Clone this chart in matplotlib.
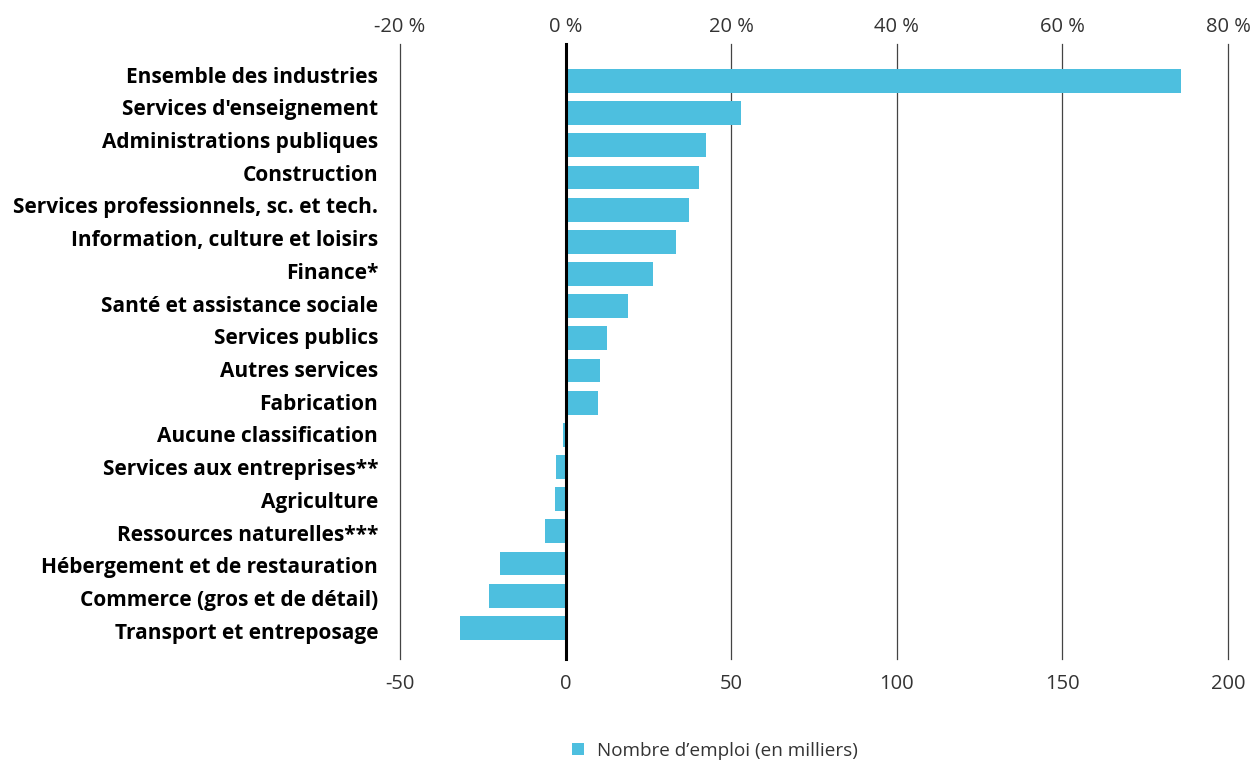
import matplotlib
matplotlib.use("Agg")
import matplotlib.pyplot as plt
from matplotlib.patches import Patch

categories = [
    "Ensemble des industries",
    "Services d'enseignement",
    "Administrations publiques",
    "Construction",
    "Services professionnels, sc. et tech.",
    "Information, culture et loisirs",
    "Finance*",
    "Santé et assistance sociale",
    "Services publics",
    "Autres services",
    "Fabrication",
    "Aucune classification",
    "Services aux entreprises**",
    "Agriculture",
    "Ressources naturelles***",
    "Hébergement et de restauration",
    "Commerce (gros et de détail)",
    "Transport et entreposage",
]
emplois = [185.9, 53.1, 42.3, 40.2, 37.2, 33.2, 26.3, 18.8, 12.4, 10.3, 9.7,
           -0.8, -2.9, -3.2, -6.2, -19.8, -23.1, -31.8]
bottom_ticks = [-50, 0, 50, 100, 150, 200]
top_tick_labels = ["-20 %", "0 %", "20 %", "40 %", "60 %", "80 %"]
legend_label = "Nombre d’emploi (en milliers)"

plt.rcParams['font.family'] = ['Open Sans', 'DejaVu Sans']
bar_color = "#4DBFDF"
text_color = "#333333"

W, H = 1254, 762
ax_top, ax_bot, ax_left, ax_right = 44, 659, 400, 1228

fig = plt.figure(figsize=(W / 100, H / 100), dpi=100)
ax = fig.add_axes([ax_left / W, 1 - ax_bot / H, (ax_right - ax_left) / W, (ax_bot - ax_top) / H])

y = list(range(len(categories)))
ax.barh(y, emplois, height=0.74, color=bar_color, zorder=3)

ax.set_xlim(-50, 200)
ax.set_ylim(17.97, -1.15)
# category labels are spread slightly wider than the bars in the reference
label_pos = [i * 1.0171 - 0.2 for i in y]
ax.set_yticks(label_pos)
ax.set_yticklabels(categories, fontsize=15, fontweight='bold', color='black')
ax.tick_params(axis='y', length=0, pad=15.8)

ax.set_xticks(bottom_ticks)
ax.set_xticklabels([str(t) for t in bottom_ticks], fontsize=14.5, color=text_color)
ax.tick_params(axis='x', length=0, pad=10.5)

for t in bottom_ticks:
    if t == 0:
        ax.axvline(t, color='black', lw=2.2, zorder=4, clip_on=False)
    else:
        ax.axvline(t, color='#444444', lw=0.9, zorder=1, clip_on=False)

for s in ax.spines.values():
    s.set_visible(False)

ax2 = ax.secondary_xaxis('top')
ax2.set_xticks(bottom_ticks)
ax2.set_xticklabels(top_tick_labels, fontsize=14.5, color=text_color)
ax2.tick_params(axis='x', length=0, pad=5)
for s in ax2.spines.values():
    s.set_visible(False)

handle = Patch(facecolor=bar_color, edgecolor='none')
fig.legend([handle], [legend_label], loc='center',
           bbox_to_anchor=(715 / W, 1 - 751 / H), frameon=False,
           fontsize=13.6, handlelength=0.6, handleheight=0.6, handletextpad=0.7,
           labelcolor=text_color)

fig.savefig("out.png", dpi=100)
